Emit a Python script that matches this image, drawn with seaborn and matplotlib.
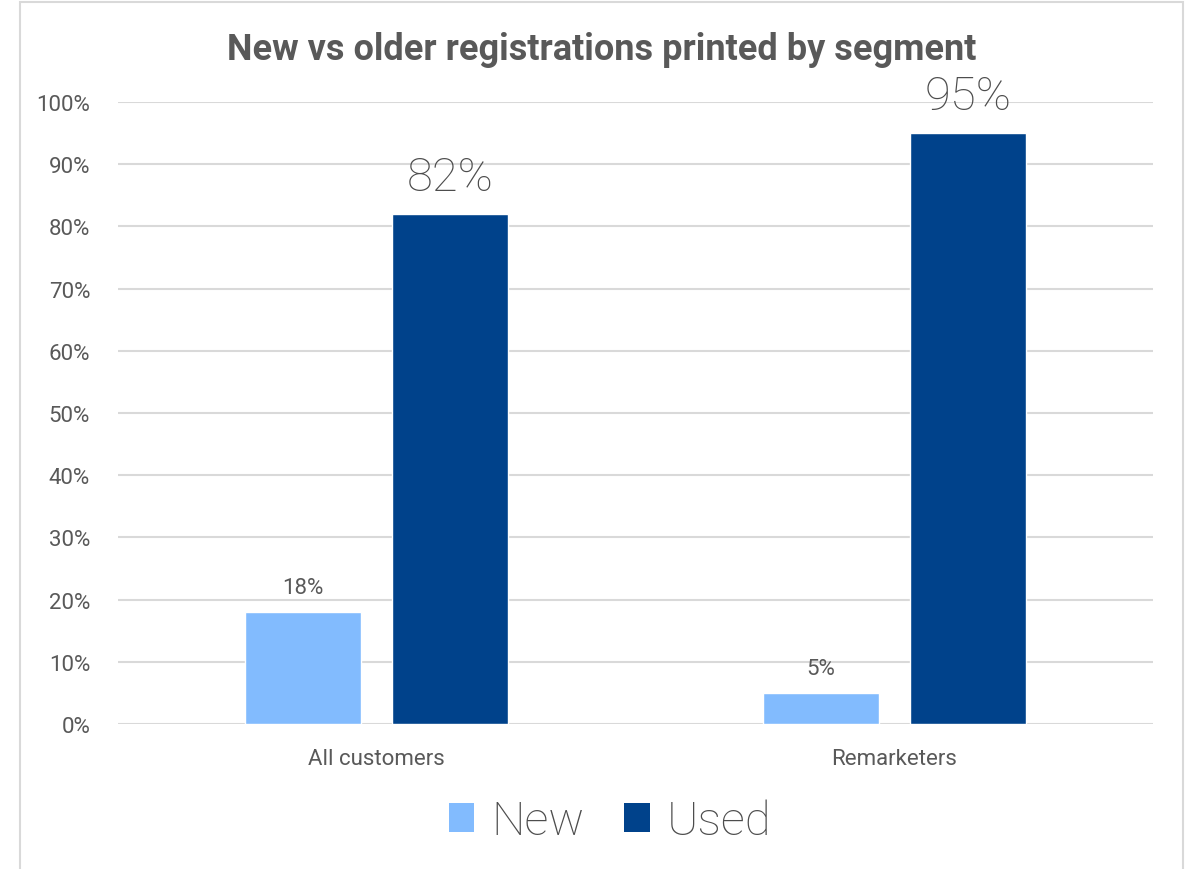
import matplotlib
matplotlib.use("Agg")
import matplotlib.pyplot as plt
import seaborn as sns
import pandas as pd
from matplotlib.patches import Rectangle, Patch

categories = ["All customers", "Remarketers"]
series = ["New", "Used"]
new_vals = [18, 5]
used_vals = [82, 95]
y_ticks = [0, 10, 20, 30, 40, 50, 60, 70, 80, 90, 100]
title = "New vs older registrations printed by segment"
colors = {"New": "#82BBFE", "Used": "#00428B"}

df = pd.DataFrame({
    "segment": categories * 2,
    "type": ["New"] * len(categories) + ["Used"] * len(categories),
    "value": [v / 100 for v in new_vals] + [v / 100 for v in used_vals],
})

sns.set_theme(style="white")
plt.rcParams['font.family'] = ['Roboto', 'DejaVu Sans']
TXT = "#595959"

fig = plt.figure(figsize=(11.89, 8.70), dpi=100)
ax = fig.add_axes([0.0992, 0.1667, 0.8705, 0.7149])

sns.barplot(data=df, x="segment", y="value", hue="type", order=categories,
            hue_order=series, palette=colors, width=0.568, gap=0.21,
            ax=ax, legend=False, saturation=1)

ax.set_xlim(-0.5, 1.5)
ax.set_ylim(0, 1.0)
ax.set_yticks([t / 100 for t in y_ticks])
ax.set_yticklabels([f"{t}%" for t in y_ticks], fontsize=16, color=TXT)
ax.tick_params(axis="y", length=0, pad=20)
ax.tick_params(axis="x", length=0, pad=17, labelsize=16, labelcolor=TXT)
ax.set_xlabel("")
ax.set_ylabel("")
ax.grid(axis="y", color="#d9d9d9", linewidth=1.5)
ax.set_axisbelow(True)
for s in ax.spines.values():
    s.set_visible(False)

c_new, c_used = ax.containers[0], ax.containers[1]
ax.bar_label(c_new, labels=[f"{v}%" for v in new_vals], padding=10,
             fontsize=16, color=TXT)
ax.bar_label(c_used, labels=[f"{v}%" for v in used_vals], padding=11,
             fontsize=34, color="#4d4d4d", fontweight="light")

fig.text(0.506, 0.943, title, ha="center", va="center", fontsize=26,
         fontweight="bold", color=TXT, family=['Roboto', 'DejaVu Sans'])

handles = [Patch(facecolor=colors[s], edgecolor="none") for s in series]
leg = fig.legend(handles, series, loc="center", bbox_to_anchor=(0.513, 0.055),
                 ncol=2, frameon=False, fontsize=34, handlelength=0.55,
                 handleheight=0.55, handletextpad=0.35, columnspacing=0.85,
                 labelcolor="#4d4d4d")
for t in leg.get_texts():
    t.set_fontweight("light")

fig.patches.append(Rectangle((20 / 1189, -0.1), (1183 - 20) / 1189, 1.1 - 3 / 870,
                             transform=fig.transFigure, fill=False,
                             edgecolor="#d9d9d9", linewidth=1.5))

fig.savefig("out.png", dpi=100)
